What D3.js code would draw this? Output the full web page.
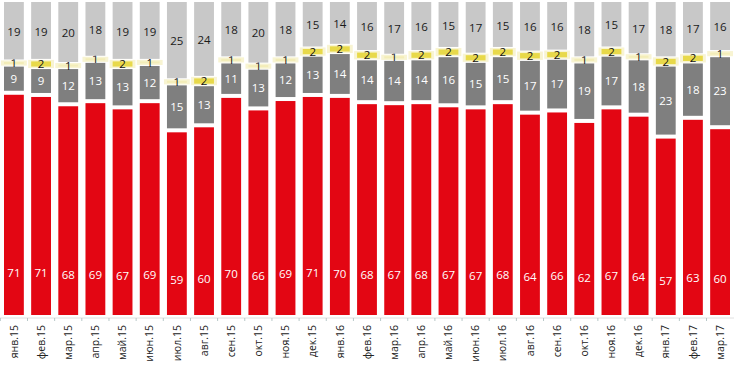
<!DOCTYPE html>
<html lang="ru">
<head>
<meta charset="UTF-8">
<script src="https://d3js.org/d3.v7.min.js"></script>
<style>
  body { margin: 0; background: #fff; }
  svg { display: block; font-family: "Open Sans", sans-serif; }
</style>
</head>
<body>
<svg width="734" height="366"></svg>
<script>
const months = ["янв.15","фев.15","мар.15","апр.15","май.15","июн.15","июл.15","авг.15","сен.15",
  "окт.15","ноя.15","дек.15","янв.16","фев.16","мар.16","апр.16","май.16","июн.16",
  "июл.16","авг.16","сен.16","окт.16","ноя.16","дек.16","янв.17","фев.17","мар.17"];
const redVals   = [71,71,68,69,67,69,59,60,70,66,69,71,70,68,67,68,67,67,68,64,66,62,67,64,57,63,60];
const darkVals  = [9,9,12,13,13,12,15,13,11,13,12,13,14,14,14,14,16,15,15,17,17,19,17,18,23,18,23];
const yellowVals= [1,2,1,1,2,1,1,2,1,1,1,2,2,2,1,2,2,2,2,2,2,1,2,1,2,2,1];
const lightVals = [19,19,20,18,19,19,25,24,18,20,18,15,14,16,17,16,15,17,15,16,16,18,15,17,18,17,16];

const keys = ["red","dark","yellow","light"];
const colors = {red:"#e30613", dark:"#7f7f7f", yellow:"#e8d94a", light:"#c8c8c8"};
const textColors = {red:"#fff", dark:"#fff", yellow:"#111", light:"#1a1a1a"};

const rows = months.map((m,i) => ({month:m, red:redVals[i], dark:darkVals[i], yellow:yellowVals[i], light:lightVals[i]}));
const series = d3.stack().keys(keys).offset(d3.stackOffsetExpand)(rows);

const svg = d3.select("svg");
const x = d3.scaleBand().domain(months).range([4, 730]).paddingInner(0.27).paddingOuter(0);
const y = d3.scaleLinear().domain([0,1]).range([315, 2]);

const gap = 2;
series.forEach(s => {
  const g = svg.append("g");
  if (s.key === "yellow") {
    // pale halo behind the thin yellow band
    g.selectAll("rect.halo").data(s).enter().append("rect")
      .attr("x", d => x(d.data.month) - 3)
      .attr("width", x.bandwidth() + 6)
      .attr("y", d => y(d[1]) - 1)
      .attr("height", d => y(d[0]) - y(d[1]) + 2)
      .attr("fill", "#f8f4d2");
    g.selectAll("rect.seg").data(s).enter().append("rect")
      .attr("x", d => x(d.data.month))
      .attr("width", x.bandwidth())
      .attr("y", d => y(d[1]) + 0.5)
      .attr("height", d => Math.max(1, y(d[0]) - y(d[1]) - 1))
      .attr("fill", d => d.data.yellow > 1 ? colors.yellow : "#f3edb8");
  } else {
    const topGap = s.key === "light" ? 0 : gap;
    const botGap = s.key === "red" ? 0 : gap;
    g.selectAll("rect").data(s).enter().append("rect")
      .attr("x", d => x(d.data.month))
      .attr("width", x.bandwidth())
      .attr("y", d => y(d[1]) + topGap)
      .attr("height", d => y(d[0]) - y(d[1]) - topGap - botGap)
      .attr("fill", colors[s.key]);
  }
  g.selectAll("text").data(s).enter().append("text")
    .attr("x", d => x(d.data.month) + x.bandwidth() / 2)
    .attr("y", d => {
      const top = y(d[1]), bot = y(d[0]);
      if (s.key === "red") return bot - 0.19 * (bot - top);
      return (top + bot) / 2;
    })
    .attr("dy", "0.36em")
    .attr("text-anchor", "middle")
    .attr("font-size", 11.5)
    .attr("fill", textColors[s.key])
    .text(d => d.data[s.key]);
});

// axis
const axisY = 318;
svg.append("line").attr("x1", 0).attr("x2", 734).attr("y1", axisY).attr("y2", axisY)
  .attr("stroke", "#e0e0e0").attr("stroke-width", 1);
svg.append("g").selectAll("line").data(months).enter().append("line")
  .attr("x1", d => x(d) - x.step() * 0.135)
  .attr("x2", d => x(d) - x.step() * 0.135)
  .attr("y1", axisY).attr("y2", axisY + 3)
  .attr("stroke", "#b8c8c8");
svg.append("g").selectAll("text").data(months).enter().append("text")
  .attr("transform", d => `translate(${x(d) + x.bandwidth() / 2},325) rotate(-90)`)
  .attr("dy", "0.35em")
  .attr("text-anchor", "end")
  .attr("font-size", 10.5)
  .attr("fill", "#222")
  .text(d => d);
</script>
</body>
</html>
